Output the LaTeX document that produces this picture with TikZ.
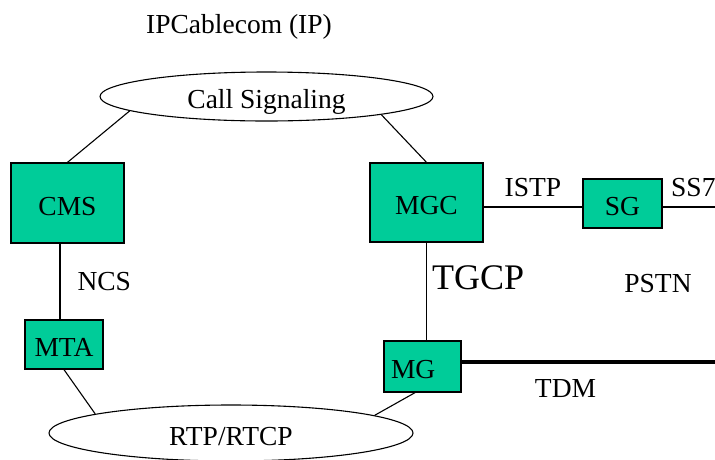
\documentclass[tikz,border=0pt]{standalone}
\usepackage{fontspec}
\setmainfont{Liberation Serif}
\usetikzlibrary{shapes.geometric,positioning}
\definecolor{cablegreen}{RGB}{0,204,153}
\begin{document}
\begin{tikzpicture}[x=1pt,y=-1pt,line width=1.1pt,font=\fontsize{27.5pt}{33pt}\selectfont]
    \useasboundingbox (0,0) rectangle (715,459);

    \begin{scope}[text height=24pt,text depth=0pt,inner sep=0pt,line width=1.3pt]
      \tikzstyle{every node}=[draw,fill=cablegreen]
      \node[minimum width=113pt,minimum height=80pt] (CMS) at (67.5,203)  {CMS};
      \node[minimum width=113pt,minimum height=79pt] (MGC) at (426.5,202.5) {MGC};
      \node[minimum width=79pt,minimum height=49pt]  (SG)  at (622.5,203.5) {SG};
      \node[minimum width=78pt,minimum height=49pt]  (MTA) at (64,344.5)  {MTA};
      \node[minimum width=77pt,minimum height=51pt,inner xsep=7pt,text width=63pt,text badly ragged] (MG) at (422.5,366.5) {MG};
    \end{scope}

    \begin{scope}[text height=24pt,text depth=0pt,inner sep=0pt]
      \tikzstyle{every node}=[draw,ellipse]
      \node[minimum width=333pt,minimum height=49pt] (CallSig) at (266.5,96.5) {Call Signaling};
      \node[minimum width=364pt,minimum height=56pt] (RTP)     at (231,433)    {RTP/RTCP};
    \end{scope}

    \coordinate (SS7end) at (715,207);
    \coordinate (TDMend) at (715,362);

    \node[anchor=base,inner sep=0pt] (title) at (239,33)  {IPCablecom (IP)};
    \node[anchor=base,inner sep=0pt] (PSTN)  at (658,292) {PSTN};

    \draw (CMS.north) -- (CallSig.186);
    \draw (CallSig.-9.6) -- (MGC.north);
    \draw ([xshift=-4pt]MTA.north |- CMS.south) -- ([xshift=-4pt]MTA.north) node[right=17pt,midway,inner sep=0pt] {NCS};
    \draw (MGC.south) -- (MGC.south |- MG.north) node[right=5pt,pos=0.36,inner sep=0pt,font=\fontsize{36pt}{40pt}\selectfont] {TGCP};
    \draw (MGC.east |- SS7end) -- (SG.west |- SS7end) node[above=10pt,midway,inner sep=0pt] {ISTP};
    \draw (SG.east |- SS7end) -- (SS7end) node[above right=10pt and 8pt,pos=0,inner sep=0pt] {SS7};
    \draw[line width=4pt] (MG.east |- TDMend) -- (TDMend) node[below=15pt,pos=0.41,inner sep=0pt] {TDM};
    \draw (MTA.south) -- (RTP.172);
    \draw (MG.-106) -- (RTP.7);
  \end{tikzpicture}
\end{document}
